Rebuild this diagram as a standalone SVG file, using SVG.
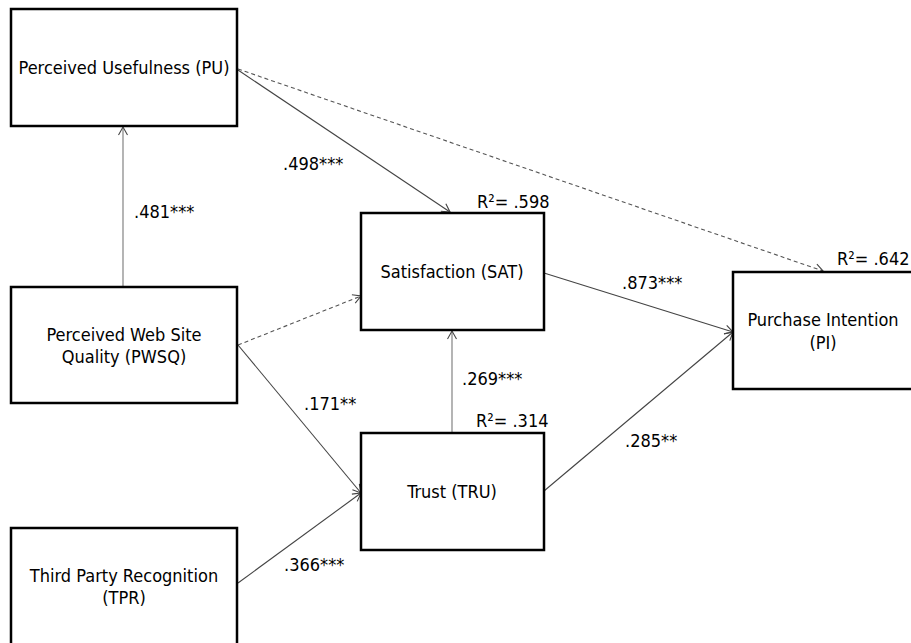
<svg xmlns="http://www.w3.org/2000/svg" width="911" height="643" viewBox="0 0 911 643">
<style>
.box{fill:#fff;stroke:#000;stroke-width:2.5}
.t{font-family:"DejaVu Sans Condensed","Liberation Sans",Arial,sans-serif;font-stretch:condensed;font-size:18px;fill:#000}
.m{text-anchor:middle}
.c{fill:none;stroke:#444;stroke-width:1.1}
.v{stroke:#777}
.d{stroke:#555;stroke-dasharray:4 3}
</style>
<defs>
<marker id="ah" markerUnits="userSpaceOnUse" markerWidth="12" markerHeight="12" viewBox="-1 -6 12 12" refX="8" refY="0" orient="auto">
<path d="M0,-4.5 L8,0 L0,4.5" fill="none" stroke="#444" stroke-width="1.1"/>
</marker>
</defs>
<rect width="911" height="643" fill="#fff"/>
<g id="connectors">
<line class="c v" x1="123" y1="287" x2="123" y2="127" marker-end="url(#ah)"/>
<line class="c" x1="238" y1="70" x2="450" y2="212" marker-end="url(#ah)"/>
<line class="c d" x1="238" y1="69" x2="823" y2="271" marker-end="url(#ah)"/>
<line class="c d" x1="238" y1="345" x2="361" y2="296" marker-end="url(#ah)"/>
<line class="c" x1="238" y1="345" x2="361" y2="493" marker-end="url(#ah)"/>
<line class="c" x1="238" y1="583" x2="361" y2="493" marker-end="url(#ah)"/>
<line class="c v" x1="452" y1="433" x2="452" y2="331" marker-end="url(#ah)"/>
<line class="c" x1="544" y1="273" x2="733" y2="332" marker-end="url(#ah)"/>
<line class="c" x1="544" y1="491" x2="733" y2="332" marker-end="url(#ah)"/>
</g>
<g id="labels">
<text class="t" x="283" y="170">.498***</text>
<text class="t" x="134" y="218">.481***</text>
<text class="t" x="477" y="208">R²= .598</text>
<text class="t" x="837" y="265">R²= .642</text>
<text class="t" x="622" y="289">.873***</text>
<text class="t" x="462" y="385">.269***</text>
<text class="t" x="304" y="410">.171**</text>
<text class="t" x="476" y="427">R²= .314</text>
<text class="t" x="625" y="447">.285**</text>
<text class="t" x="284" y="571">.366***</text>
</g>
<g id="PU">
<rect class="box" x="11" y="9" width="226" height="117"/>
<text class="t m" x="124" y="74">Perceived Usefulness (PU)</text>
</g>
<g id="PWSQ">
<rect class="box" x="11" y="287" width="226" height="116"/>
<text class="t m" x="124" y="341">Perceived Web Site</text>
<text class="t m" x="124" y="363">Quality (PWSQ)</text>
</g>
<g id="TPR">
<rect class="box" x="11" y="528" width="226" height="130"/>
<text class="t m" x="124" y="582">Third Party Recognition</text>
<text class="t m" x="124" y="604">(TPR)</text>
</g>
<g id="SAT">
<rect class="box" x="361" y="213" width="183" height="117"/>
<text class="t m" x="452" y="278">Satisfaction (SAT)</text>
</g>
<g id="TRU">
<rect class="box" x="361" y="433" width="183" height="117"/>
<text class="t m" x="452" y="498">Trust (TRU)</text>
</g>
<g id="PI">
<rect class="box" x="733" y="272" width="200" height="117"/>
<text class="t m" x="823" y="326">Purchase Intention</text>
<text class="t m" x="823" y="349">(PI)</text>
</g>
</svg>
